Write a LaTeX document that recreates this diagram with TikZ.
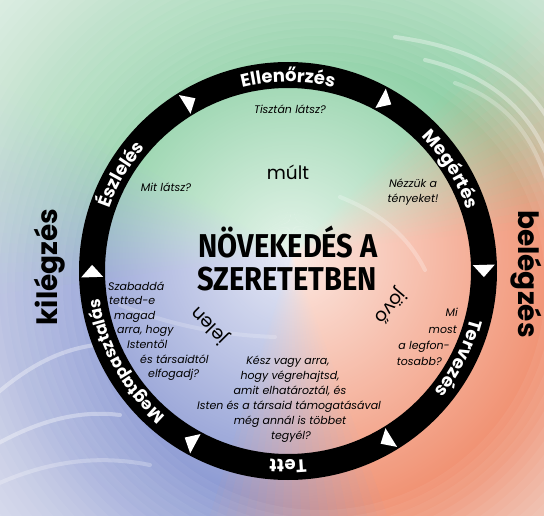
\documentclass[tikz,border=0pt]{standalone}
\usepackage{fontspec}
\usetikzlibrary{calc,decorations.text,fadings}
\newfontfamily\popfont{Poppins}
\newfontfamily\titlefont[FakeStretch=0.88]{Fira Sans}
\definecolor{cG}{RGB}{112,196,142}
\definecolor{cO}{RGB}{240,136,102}
\definecolor{cB}{RGB}{122,138,204}
\tikzfading[name=glowfade, inner color=transparent!18, outer color=transparent!100]
\newcommand\ringtext{\popfont\bfseries\fontsize{18}{18}\selectfont}
\newcommand\ringtextsmall{\popfont\bfseries\fontsize{16.5}{16.5}\selectfont}
\tikzset{
  qtext/.style={font=\popfont\itshape\fontsize{11}{15}\selectfont, inner sep=0pt},
  timeword/.style={font=\popfont\fontsize{18.5}{18.5}\selectfont, inner sep=0pt},
  titletext/.style={font=\titlefont\bfseries\fontsize{33}{33}\selectfont, inner sep=0pt, anchor=base},
  breath/.style={font=\popfont\bfseries\fontsize{28}{28}\selectfont, inner sep=0pt},
  ringarrow/.style={fill=white},
  swirl/.style={draw=white, line width=4pt, draw opacity=0.35, line cap=round},
  ringlabel/.style={decorate, decoration={text along path, text align=center, text color=white}}
}
\begin{document}
\begin{tikzpicture}[x=1pt,y=1pt]
\useasboundingbox (0,0) rectangle (544,515);
\coordinate (C) at (288,244);
\coordinate (M) at (292,262);
\coordinate (F) at (320,230);
% background
\begin{scope}
\clip (0,0) rectangle (544,515);
\fill[white] (0,0) rectangle (544,515);
\foreach \a in {-110,-108,...,250} {
  \pgfmathsetmacro\wO{min(1,max(0,(\a+110)/40))*(1-min(1,max(0,(\a-5)/40)))}
  \pgfmathsetmacro\wG{min(1,max(0,(\a-5)/40))*(1-min(1,max(0,(\a-148)/40)))}
  \pgfmathsetmacro\wB{1-\wO-\wG}
  \pgfmathtruncatemacro\cr{\wO*240+\wG*112+\wB*122}
  \pgfmathtruncatemacro\cg{\wO*136+\wG*196+\wB*138}
  \pgfmathtruncatemacro\cb{\wO*102+\wG*142+\wB*204}
  \definecolor{wc}{RGB}{\cr,\cg,\cb}
  \fill[wc] (M) -- ($(M)+(\a:700)$) -- ($(M)+(\a+2.6:700)$) -- cycle;
}
\fill[white, path fading=glowfade] (M) circle (300);
\foreach \r in {225,233,...,460} {
  \fill[white, fill opacity=0.06, even odd rule] (-10,-10) rectangle (554,525) (F) circle (\r);
}
% soft swirls
\draw[swirl] (395,478) .. controls (470,468) and (525,440) .. (550,392);
\draw[swirl] (425,455) .. controls (490,440) and (530,405) .. (550,352);
\draw[swirl, draw opacity=0.25] (455,432) .. controls (505,415) and (535,380) .. (550,322);
\draw[swirl] (-5,120) .. controls (30,150) and (60,165) .. (95,170);
\draw[swirl] (-5,70) .. controls (40,95) and (80,105) .. (120,100);
\draw[swirl, draw opacity=0.25] (-5,30) .. controls (50,55) and (100,60) .. (150,50);
\draw[swirl, draw opacity=0.25] (340,318) .. controls (385,300) and (410,275) .. (425,245);
\draw[swirl, draw opacity=0.2] (120,210) .. controls (170,190) and (220,180) .. (275,178);
\end{scope}
% ring
\fill[black, even odd rule] (C) circle (209) (C) circle (183);
\foreach \t in {0,60,120,180,240,300} {
  \fill[ringarrow] ($(C)+(\t+1.8:185)$) -- ($(C)+(\t+1.8:207)$) -- ($(C)+(\t-1.8:196)$) -- cycle;
}
\path[ringlabel, decoration={text={|\ringtext|Ellenőrzés}}] ($(C)+(120:189)$) arc[start angle=120, end angle=60, radius=189];
\path[ringlabel, decoration={text={|\ringtext|Megértés}}] ($(C)+(62:189)$) arc[start angle=62, end angle=2, radius=189];
\path[ringlabel, decoration={text={|\ringtext|Tervezés}}] ($(C)+(3:189)$) arc[start angle=3, end angle=-57, radius=189];
\path[ringlabel, decoration={text={|\ringtext|Tett}}] ($(C)+(-60:189)$) arc[start angle=-60, end angle=-120, radius=189];
\path[ringlabel, decoration={text={|\ringtextsmall|Megtapasztalás}}] ($(C)+(-111:190)$) arc[start angle=-111, end angle=-191, radius=190];
\path[ringlabel, decoration={text={|\ringtext|Észlelés}}] ($(C)+(180:189)$) arc[start angle=180, end angle=120, radius=189];
% inner texts
\node[qtext] (q1) at (290,406) {Tisztán látsz?};
\node[timeword] (past) at (288,343) {múlt};
\node[qtext] (q2) at (166,328) {Mit látsz?};
\node[qtext, align=center] (q3) at (413,323) {Nézzük a\\tényeket!};
\node[titletext] (t1) at (288,257) {NÖVEKEDÉS A};
\node[titletext] (t2) at (287,225) {SZERETETBEN};
\node[qtext, anchor=base west] (l1) at (108,225) {Szabaddá};
\node[qtext, anchor=base west] (l2) at (109,210.4) {tetted-e};
\node[qtext, anchor=base west] (l3) at (114,195.8) {magad};
\node[qtext, anchor=base west] (l4) at (117,181.2) {arra, hogy};
\node[qtext, anchor=base west] (l5) at (127,166.6) {Istentől};
\node[qtext, anchor=base west] (l6) at (140,152) {és társaidtól};
\node[qtext, anchor=base west] (l7) at (148,137.4) {elfogadj?};
\node[qtext, anchor=base east] (r1) at (458,198) {Mi};
\node[qtext, anchor=base east] (r2) at (457,182) {most};
\node[qtext, anchor=base east] (r3) at (450,166) {a legfon-};
\node[qtext, anchor=base east] (r4) at (442,150) {tosabb?};
\node[qtext, anchor=base] (b1) at (288,151) {Kész vagy arra,};
\node[qtext, anchor=base] (b2) at (290,136) {hogy végrehajtsd,};
\node[qtext, anchor=base] (b3) at (290,121) {amit elhatároztál, és};
\node[qtext, anchor=base] (b4) at (289,106) {Isten és a társaid támogatásával};
\node[qtext, anchor=base] (b5) at (290,91) {még annál is többet};
\node[qtext, anchor=base] (b6) at (291,76) {tegyél?};
\node[timeword, rotate=135] (now) at (210,190) {jelen};
\node[timeword, rotate=-130] (future) at (390,209) {jövő};
\node[breath, rotate=90] (exhale) at (50,248) {kilégzés};
\node[breath, rotate=-90] (inhale) at (526,241) {belégzés};
\end{tikzpicture}
\end{document}
